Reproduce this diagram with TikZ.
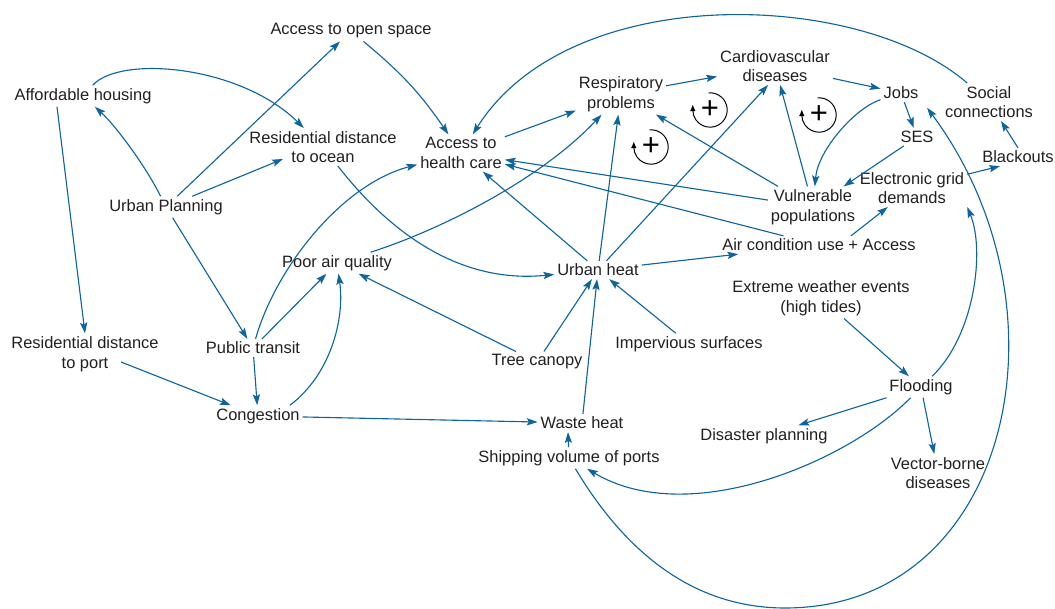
\documentclass[tikz,border=0pt]{standalone}
\usepackage{fontspec}
\setmainfont{Liberation Sans}
\usetikzlibrary{arrows.meta}
\definecolor{linkblue}{RGB}{14,101,158}
\definecolor{labelgray}{RGB}{35,31,32}
\begin{document}
\begin{tikzpicture}[
  x=0.025cm, y=0.025cm,
  fac/.style={
    text=labelgray, align=center, inner sep=2pt,
    font=\fontsize{11.7}{14}\selectfont
  },
  arr/.style={-{Stealth[length=2.7mm, width=1.8mm, inset=0.5mm]}, line width=0.8pt, draw=linkblue},
  loopsign/.style={text=black, inner sep=0pt, font=\fontsize{22}{22}\selectfont},
  looparr/.style={-{Latex[length=1.7mm, width=1.4mm]}, line width=0.7pt, draw=black}
]
  \useasboundingbox (0,0) rectangle (1055,-609);

  % factors
  \node[fac] (open)     at (351,-31)  {Access to open space};
  \node[fac] (afford)   at (83,-96)   {Affordable housing};
  \node[fac] (resocean) at (323,-147) {Residential distance\\to ocean};
  \node[fac] (health)   at (461,-153) {Access to\\health care};
  \node[fac] (resp)     at (621,-94)  {Respiratory\\problems};
  \node[fac] (cardio)   at (775,-66)  {Cardiovascular\\diseases};
  \node[fac] (jobs)     at (901,-93)  {Jobs};
  \node[fac] (social)   at (989,-102) {Social\\connections};
  \node[fac] (ses)      at (917,-137) {SES};
  \node[fac] (blackout) at (1018,-157) {Blackouts};
  \node[fac] (grid)     at (912,-188) {Electronic grid\\demands};
  \node[fac] (vuln)     at (813,-207) {Vulnerable\\populations};
  \node[fac] (uplan)    at (166,-207) {Urban Planning};
  \node[fac] (aircon)   at (819,-245) {Air condition use + Access};
  \node[fac] (poorair)  at (337,-263) {Poor air quality};
  \node[fac] (uheat)    at (598,-270) {Urban heat};
  \node[fac] (extreme)  at (821,-298) {Extreme weather events\\(high tides)};
  \node[fac] (resport)  at (85,-354)  {Residential distance\\to port};
  \node[fac] (transit)  at (253,-348) {Public transit};
  \node[fac] (tree)     at (537,-362) {Tree canopy};
  \node[fac] (imperv)   at (689,-344) {Impervious surfaces};
  \node[fac] (congest)  at (258,-416) {Congestion};
  \node[fac] (flood)    at (921,-387) {Flooding};
  \node[fac] (waste)    at (582,-423) {Waste heat};
  \node[fac] (disaster) at (764,-436) {Disaster planning};
  \node[fac] (ship)     at (569,-458) {Shipping volume of ports};
  \node[fac] (vector)   at (938,-473) {Vector-borne\\diseases};
  \coordinate (loopbottom) at (785,-608);

  % reinforcing loops
  \foreach \nm/\px/\py in {loopa/710/110, loopb/819/115, loopc/651/147} {
    \node[loopsign] (\nm) at (\px,-\py) {+};
    \draw[looparr] (\nm.center) ++(95:0.43cm) arc[start angle=95, end angle=-180, radius=0.43cm] -- ++(0,0.14cm);
  }

  % links
  \draw[arr] (uplan) -- (open);
  \draw[arr] (open) to[bend left=8] (health);
  \draw[arr] (afford) .. controls (120,-55) and (240,-65) .. (resocean);
  \draw[arr] (uplan) .. controls (145,-165) and (115,-125) .. (afford);
  \draw[arr] (uplan) -- ([xshift=-1.0cm, yshift=-0.3cm]resocean.center);
  \draw[arr] ([xshift=-0.65cm]afford.south) -- (resport.north);
  \draw[arr] (uplan) -- (transit);
  \draw[arr] ([xshift=0.9cm, yshift=-0.2cm]resport.center) -- (congest);
  \draw[arr] (transit) -- (congest);
  \draw[arr] (transit) -- (poorair);
  \draw[arr] (transit) .. controls (275,-270) and (340,-185) .. (health);
  \draw[arr] ([xshift=0.8cm]congest.north) .. controls (330,-375) and (345,-320) .. (poorair);
  \draw[arr] (congest) -- (waste);
  \draw[arr] (poorair) .. controls (440,-230) and (540,-180) .. (resp);
  \draw[arr] (resocean) .. controls (380,-220) and (450,-285) .. (uheat);
  \draw[arr] (tree) -- (poorair);
  \draw[arr] (tree) -- (uheat);
  \draw[arr] (waste) -- (uheat);
  \draw[arr] (imperv) -- (uheat);
  \draw[arr] (uheat) -- (health);
  \draw[arr] (uheat) -- (resp);
  \draw[arr] (uheat) -- (cardio.250);
  \draw[arr] (uheat) -- (aircon);
  \draw[arr] (aircon) -- (health);
  \draw[arr] (vuln) -- (health);
  \draw[arr] (vuln) -- (resp);
  \draw[arr] (vuln) -- (cardio);
  \draw[arr] (health) -- (resp);
  \draw[arr] (resp) -- (cardio);
  \draw[arr] (cardio) -- (jobs);
  \draw[arr] (jobs) .. controls (855,-108) and (818,-150) .. (vuln);
  \draw[arr] (jobs) -- (ses);
  \draw[arr] (ses) -- (vuln);
  \draw[arr] ([xshift=0.8cm]aircon.north) -- (grid);
  \draw[arr] (grid) -- ([xshift=-0.45cm]blackout.south);
  \draw[arr] (blackout.north) -- (social);
  \draw[arr] (social) .. controls (860,10) and (570,20) .. (health);
  \draw[arr] (extreme) -- (flood);
  \draw[arr] (flood) .. controls (975,-335) and (985,-250) .. (grid.south east);
  \draw[arr] (flood) -- (disaster);
  \draw[arr] (flood) -- (vector);
  \draw[arr] (flood) .. controls (850,-460) and (690,-530) .. (ship);
  \draw[arr] (ship) -- ([xshift=-0.35cm]waste.south);
  \draw[arr] (ship) .. controls (630,-560) and (700,-608) .. (loopbottom)
    .. controls (1010,-608) and (1077,-310) .. ([xshift=4pt, yshift=-4pt]jobs.south east);

\end{tikzpicture}
\end{document}
